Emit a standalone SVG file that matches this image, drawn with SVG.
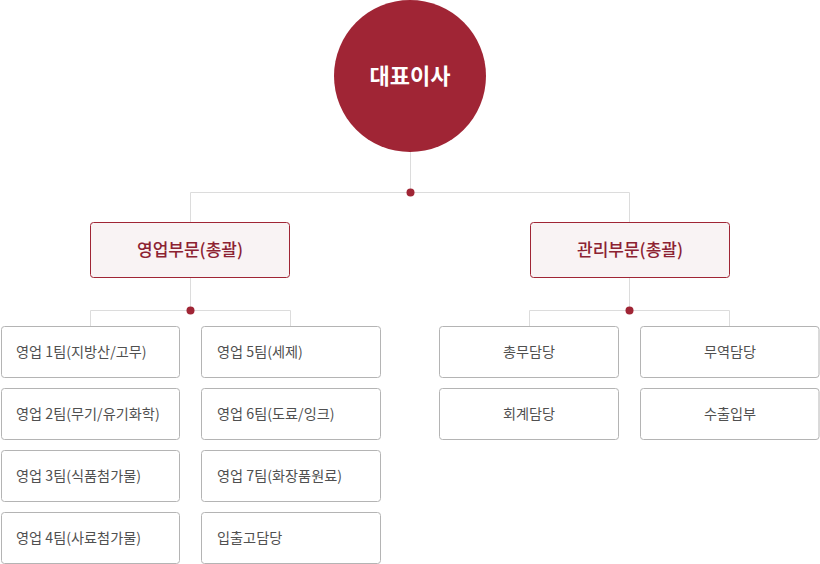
<svg xmlns="http://www.w3.org/2000/svg" width="820" height="564" viewBox="0 0 820 564">
<style>
text{font-family:"Noto Sans CJK KR","Noto Sans",sans-serif}
.ln{fill:none;stroke:#dcdcdc;stroke-width:1}
.dot{fill:#a02535}
.sec rect{fill:#f9f3f4;stroke:#a02535;stroke-width:1}
.sec text{fill:#8c2232;font-size:17px;font-weight:500;text-anchor:middle}
.leaf rect{fill:#fff;stroke:#b4b4b4;stroke-width:1}
.leaf text{fill:#505050;font-size:14.2px}
.c text{text-anchor:middle}
</style>
<g id="connectors">
<path class="ln" d="M410.5 152V192.5M190.5 222V192.5H629.5V222"/>
<path class="ln" d="M190.5 277V310.5M90.5 326V310.5H290.5V326"/>
<path class="ln" d="M629.5 277V310.5M529.5 326V310.5H729.5V326"/>
<circle class="dot" cx="410.5" cy="192.5" r="4"/>
<circle class="dot" cx="190.5" cy="310.5" r="4"/>
<circle class="dot" cx="629.5" cy="310.5" r="4"/>
</g>
<g id="ceo">
<circle cx="410" cy="76" r="76" fill="#a02535"/>
<text x="410" y="84" fill="#fff" font-size="22" font-weight="700" text-anchor="middle">대표이사</text>
</g>
<g id="sales" class="sec"><rect x="90.5" y="222.5" width="199" height="55" rx="3"/><text x="190" y="256">영업부문(총괄)</text></g>
<g id="admin" class="sec"><rect x="530.5" y="222.5" width="199" height="55" rx="3"/><text x="630" y="256">관리부문(총괄)</text></g>
<g id="s1" class="leaf"><rect x="1.5" y="326.5" width="178" height="51" rx="3"/><text x="16" y="357">영업 1팀(지방산/고무)</text></g>
<g id="s2" class="leaf"><rect x="1.5" y="388.5" width="178" height="51" rx="3"/><text x="16" y="419">영업 2팀(무기/유기화학)</text></g>
<g id="s3" class="leaf"><rect x="1.5" y="450.5" width="178" height="51" rx="3"/><text x="16" y="481">영업 3팀(식품첨가물)</text></g>
<g id="s4" class="leaf"><rect x="1.5" y="512.5" width="178" height="51" rx="3"/><text x="16" y="543">영업 4팀(사료첨가물)</text></g>
<g id="s5" class="leaf"><rect x="201.5" y="326.5" width="179" height="51" rx="3"/><text x="217" y="357">영업 5팀(세제)</text></g>
<g id="s6" class="leaf"><rect x="201.5" y="388.5" width="179" height="51" rx="3"/><text x="217" y="419">영업 6팀(도료/잉크)</text></g>
<g id="s7" class="leaf"><rect x="201.5" y="450.5" width="179" height="51" rx="3"/><text x="217" y="481">영업 7팀(화장품원료)</text></g>
<g id="s8" class="leaf"><rect x="201.5" y="512.5" width="179" height="51" rx="3"/><text x="217" y="543">입출고담당</text></g>
<g id="a1" class="leaf c"><rect x="439.5" y="326.5" width="179" height="51" rx="3"/><text x="529" y="357">총무담당</text></g>
<g id="a2" class="leaf c"><rect x="439.5" y="388.5" width="179" height="51" rx="3"/><text x="529" y="419">회계담당</text></g>
<g id="a3" class="leaf c"><rect x="640.5" y="326.5" width="178.5" height="51" rx="3"/><text x="730" y="357">무역담당</text></g>
<g id="a4" class="leaf c"><rect x="640.5" y="388.5" width="178.5" height="51" rx="3"/><text x="730" y="419">수출입부</text></g>
</svg>
